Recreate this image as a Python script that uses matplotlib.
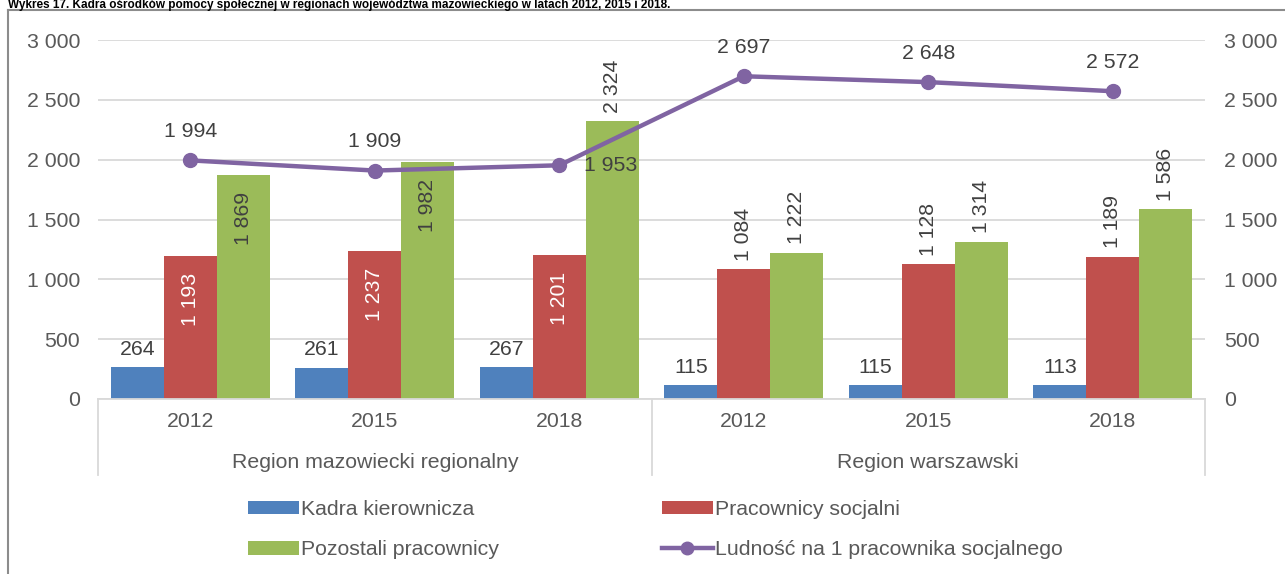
import matplotlib
matplotlib.use("Agg")
import matplotlib.pyplot as plt
from matplotlib.lines import Line2D
from matplotlib.patches import Patch
import matplotlib.transforms as mtransforms

plt.rcParams['font.family'] = ['Liberation Sans', 'DejaVu Sans']

title = "Wykres 17. Kadra ośrodków pomocy społecznej w regionach województwa mazowieckiego w latach 2012, 2015 i 2018."
years = ["2012", "2015", "2018", "2012", "2015", "2018"]
regions = ["Region mazowiecki regionalny", "Region warszawski"]
kadra = [264, 261, 267, 115, 115, 113]
socjalni = [1193, 1237, 1201, 1084, 1128, 1189]
pozostali = [1869, 1982, 2324, 1222, 1314, 1586]
ludnosc = [1994, 1909, 1953, 2697, 2648, 2572]
yticks = [0, 500, 1000, 1500, 2000, 2500, 3000]

C_BLUE = "#4F81BD"
C_RED = "#C0504D"
C_GREEN = "#9BBB59"
C_PURPLE = "#8064A2"
C_TEXT = "#404040"
C_TICK = "#595959"
C_GRID = "#D9D9D9"
FS = 15.3


def fmt(v):
    return f"{v:,}".replace(",", " ")


fig = plt.figure(figsize=(12.85, 5.74), dpi=100)
ax = fig.add_axes([98 / 1285, 1 - 399 / 574, (1205 - 98) / 1285, (399 - 40) / 574])
ax2 = ax.twinx()

x = list(range(len(years)))
w = 0.287
ax.set_xlim(-0.5, 5.5)
ax.set_ylim(0, 3000)
ax2.set_ylim(0, 3000)

ax.set_axisbelow(True)
ax.grid(axis='y', color=C_GRID, linewidth=1.3)
for s in ax.spines.values():
    s.set_visible(False)
for s in ax2.spines.values():
    s.set_visible(False)
ax.spines['bottom'].set_visible(True)
ax.spines['bottom'].set_color(C_GRID)
ax.spines['bottom'].set_linewidth(1.3)

ax.set_yticks(yticks)
ax.set_yticklabels([fmt(v) for v in yticks], fontsize=FS, color=C_TICK)
ax2.set_yticks(yticks)
ax2.set_yticklabels([fmt(v) for v in yticks], fontsize=FS, color=C_TICK)
ax.tick_params(axis='y', length=0, pad=13)
ax2.tick_params(axis='y', length=0, pad=14)
ax.set_xticks(x)
ax.set_xticklabels(years, fontsize=FS, color=C_TICK)
ax.tick_params(axis='x', length=0, pad=9.5)

xb = [i - w for i in x]
xr = x
xg = [i + w for i in x]
ax.bar(xb, kadra, width=w, color=C_BLUE, zorder=2)
ax.bar(xr, socjalni, width=w, color=C_RED, zorder=2)
ax.bar(xg, pozostali, width=w, color=C_GREEN, zorder=2)

ax2.plot(x, ludnosc, color=C_PURPLE, linewidth=3.2, marker='o', markersize=10, zorder=5)

# bar labels
for xi, v in zip(xb, kadra):
    ax.annotate(fmt(v), (xi, v), xytext=(0, 6), textcoords='offset points',
                ha='center', va='bottom', fontsize=FS, color=C_TEXT)

for i, (xi, v) in enumerate(zip(xr, socjalni)):
    if i < 3:
        ax.annotate(fmt(v), (xi, v), xytext=(0, -12), textcoords='offset points',
                    ha='center', va='top', rotation=90, fontsize=FS, color='white', zorder=4)
    else:
        ax.annotate(fmt(v), (xi, v), xytext=(0, 6), textcoords='offset points',
                    ha='center', va='bottom', rotation=90, fontsize=FS, color=C_TEXT)

for i, (xi, v) in enumerate(zip(xg, pozostali)):
    if i < 2:
        ax.annotate(fmt(v), (xi, v), xytext=(0, -12), textcoords='offset points',
                    ha='center', va='top', rotation=90, fontsize=FS, color=C_TEXT, zorder=4)
    else:
        ax.annotate(fmt(v), (xi, v), xytext=(0, 6), textcoords='offset points',
                    ha='center', va='bottom', rotation=90, fontsize=FS, color=C_TEXT)

for i, (xi, v) in enumerate(zip(x, ludnosc)):
    if i == 2:
        ax2.annotate(fmt(v), (xi, v), xytext=(18, 0), textcoords='offset points',
                     ha='left', va='center', fontsize=FS, color=C_TEXT, zorder=6)
    else:
        ax2.annotate(fmt(v), (xi, v), xytext=(0, 14), textcoords='offset points',
                     ha='center', va='bottom', fontsize=FS, color=C_TEXT)

# category axis separators and region labels
trans = mtransforms.blended_transform_factory(ax.transData, ax.transAxes)
sep_depth = 76 / (399 - 40)
for xs in [-0.5, 2.5, 5.5]:
    ax.add_line(Line2D([xs, xs], [0, -sep_depth], transform=trans, color=C_GRID,
                       linewidth=1.3, clip_on=False))
for xc, name in zip([1, 4], regions):
    ax.text(xc, -64 / (399 - 40), name, transform=trans, ha='center', va='center',
            fontsize=FS, color=C_TICK)

# legend
handles = [
    Patch(facecolor=C_BLUE, label="Kadra kierownicza"),
    Patch(facecolor=C_GREEN, label="Pozostali pracownicy"),
    Patch(facecolor=C_RED, label="Pracownicy socjalni"),
    Line2D([0], [0], color=C_PURPLE, linewidth=3.2, marker='o', markersize=9,
           label="Ludność na 1 pracownika socjalnego"),
]
leg = fig.legend(handles=handles, ncol=2, loc='upper left',
                 bbox_to_anchor=(229 / 1285, 1 - 481 / 574), frameon=False,
                 fontsize=FS, handlelength=2.4, handleheight=0.6, handletextpad=0.1,
                 columnspacing=7.65, labelspacing=1.0)
for t in leg.get_texts():
    t.set_color(C_TICK)

# outer frame
fig.add_artist(Line2D([8 / 1285, 1], [1 - 10 / 574, 1 - 10 / 574], transform=fig.transFigure,
                      color="#8C8C8C", linewidth=1.5))
fig.add_artist(Line2D([8 / 1285, 8 / 1285], [0, 1 - 10 / 574], transform=fig.transFigure,
                      color="#8C8C8C", linewidth=1.5))

# title, kept inside the strip above the frame line
fig.text(8 / 1285, 1 - 8 / 574, title, ha='left', va='baseline', fontsize=8.5,
         fontweight='bold', color='black')

fig.savefig("out.png", dpi=100)
